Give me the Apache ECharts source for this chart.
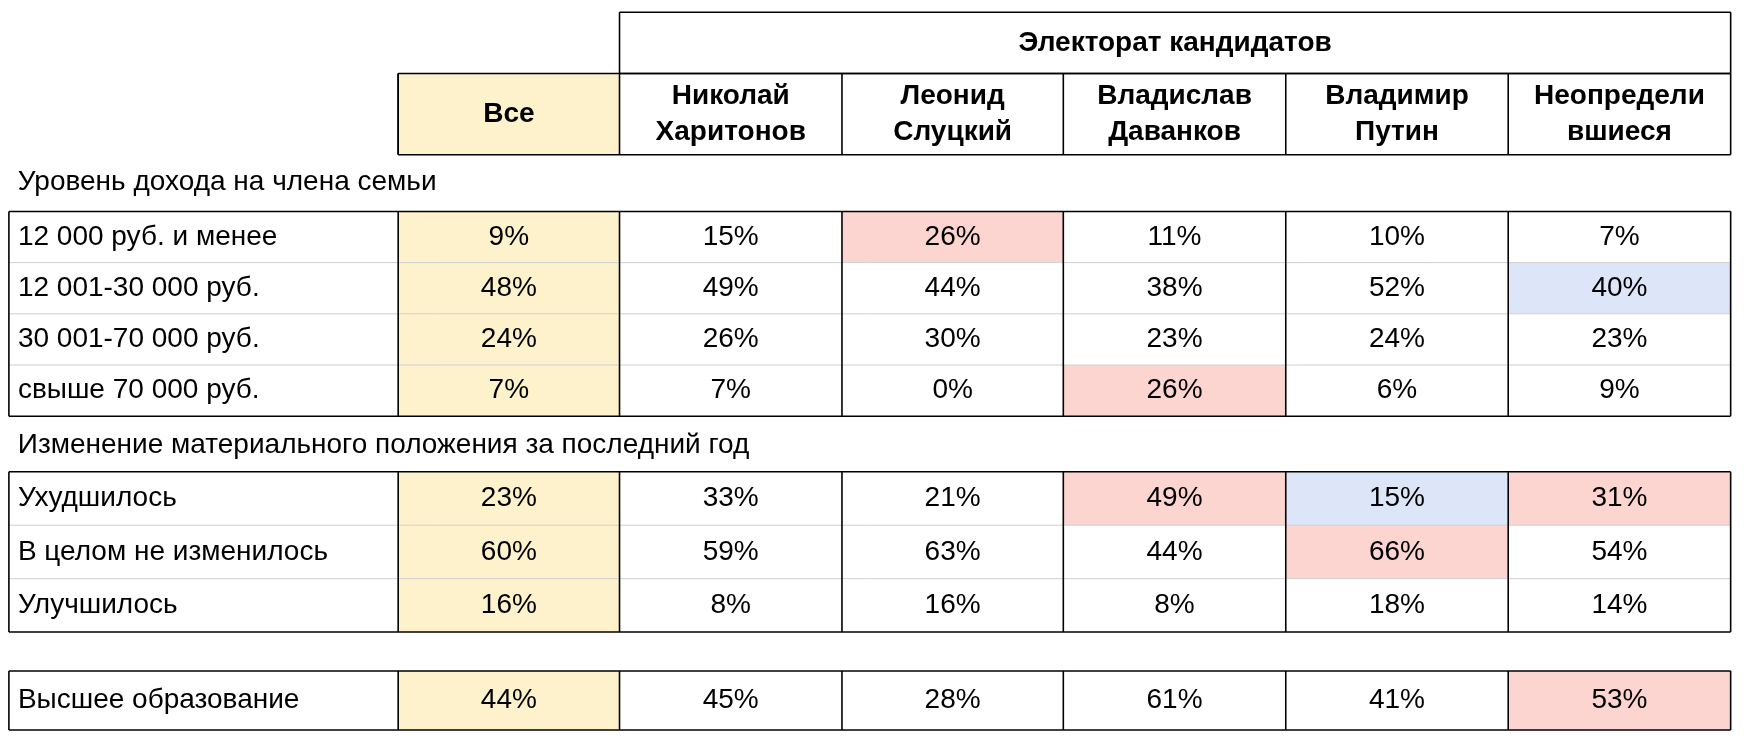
<!DOCTYPE html>
<html>
<head>
<meta charset="utf-8">
<script src="https://cdn.jsdelivr.net/npm/echarts@6/dist/echarts.min.js"></script>
<style>html,body{margin:0;padding:0;background:#fff}#chart{width:1744px;height:740px}</style>
</head>
<body>
<div id="chart"></div>
<script>
var groupTitle = 'Электорат кандидатов';
var columns = ['Все', 'Николай\nХаритонов', 'Леонид\nСлуцкий', 'Владислав\nДаванков', 'Владимир\nПутин', 'Неопредели\nвшиеся'];

var incomeTitle = 'Уровень дохода на члена семьи';
var incomeRows = ['12 000 руб. и менее', '12 001-30 000 руб.', '30 001-70 000 руб.', 'свыше 70 000 руб.'];
var incomeValues = [
    [9, 15, 26, 11, 10, 7],
    [48, 49, 44, 38, 52, 40],
    [24, 26, 30, 23, 24, 23],
    [7, 7, 0, 26, 6, 9]
];
var incomeMarks = [
    ['', '', 'r', '', '', ''],
    ['', '', '', '', '', 'b'],
    ['', '', '', '', '', ''],
    ['', '', '', 'r', '', '']
];

var changeTitle = 'Изменение материального положения за последний год';
var changeRows = ['Ухудшилось', 'В целом не изменилось', 'Улучшилось'];
var changeValues = [
    [23, 33, 21, 49, 15, 31],
    [60, 59, 63, 44, 66, 54],
    [16, 8, 16, 8, 18, 14]
];
var changeMarks = [
    ['', '', '', 'r', 'b', 'r'],
    ['', '', '', '', 'r', ''],
    ['', '', '', '', '', '']
];

var eduRows = ['Высшее образование'];
var eduValues = [[44, 45, 28, 61, 41, 53]];
var eduMarks = [['', '', '', '', '', 'r']];

// layout (units of a 1568x665 canvas, stretched to the page)
var colEdges = [8, 358, 557, 757, 956, 1156, 1356, 1556];
var markFill = { r: '#fcd5d0', b: '#dde6f8', '': '#ffffff' };
var allFill = '#fdf2cc';

var cells = [];   // [x0, y0, x1, y1, text, fill, align, bold]
var lines = [];   // [x0, y0, x1, y1, color, width]
var labels = [];  // [x, y, text]

function box(x0, y0, x1, y1) {
    lines.push([x0, y0, x1, y0, '#000', 1.6], [x0, y1, x1, y1, '#000', 1.6],
               [x0, y0, x0, y1, '#000', 1.6], [x1, y0, x1, y1, '#000', 1.6]);
}

// header
cells.push([557, 11, 1556, 66, groupTitle, '#fff', 'center', true]);
box(557, 11, 1556, 66);
columns.forEach(function (c, i) {
    cells.push([colEdges[i + 1], 66, colEdges[i + 2], 139, c, i === 0 ? allFill : '#fff', 'center', true]);
    lines.push([colEdges[i + 1], 66, colEdges[i + 1], 139, '#000', 1.6]);
});
box(358, 66, 1556, 139);

function block(rows, values, marks, top, rowH) {
    rows.forEach(function (name, r) {
        var y0 = top + r * rowH, y1 = y0 + rowH;
        cells.push([colEdges[0], y0, colEdges[1], y1, name, '#fff', 'left', false]);
        values[r].forEach(function (v, i) {
            cells.push([colEdges[i + 1], y0, colEdges[i + 2], y1, v + '%',
                i === 0 ? allFill : markFill[marks[r][i]], 'center', false]);
        });
        if (r > 0) lines.push([colEdges[0], y0, colEdges[7], y0, '#d0d0d0', 1]);
    });
    var bottom = top + rows.length * rowH;
    for (var i = 1; i < 7; i++) lines.push([colEdges[i], top, colEdges[i], bottom, '#000', 1.6]);
    box(colEdges[0], top, colEdges[7], bottom);
}

labels.push([16, 164, incomeTitle]);
block(incomeRows, incomeValues, incomeMarks, 190, 46);
labels.push([16, 400, changeTitle]);
block(changeRows, changeValues, changeMarks, 424, 48);
block(eduRows, eduValues, eduMarks, 603, 53);

var font = '"Liberation Sans", Arial, sans-serif';
var chart = echarts.init(document.getElementById('chart'));
chart.setOption({
    animation: false,
    grid: { left: 0, right: 0, top: 0, bottom: 0 },
    xAxis: { type: 'value', min: 0, max: 1568, show: false },
    yAxis: { type: 'value', min: 0, max: 665, inverse: true, show: false },
    series: [
        {
            type: 'custom',
            data: cells,
            renderItem: function (params, api) {
                var d = cells[params.dataIndex];
                var p0 = api.coord([d[0], d[1]]), p1 = api.coord([d[2], d[3]]);
                var left = d[6] === 'left';
                return {
                    type: 'group',
                    children: [
                        { type: 'rect', shape: { x: p0[0], y: p0[1], width: p1[0] - p0[0], height: p1[1] - p0[1] },
                          style: { fill: d[5] } },
                        { type: 'text', x: left ? p0[0] + 9 : (p0[0] + p1[0]) / 2, y: (p0[1] + p1[1]) / 2,
                          style: { text: d[4], fill: '#000', align: left ? 'left' : 'center', verticalAlign: 'middle',
                                   font: (d[7] ? 'bold ' : '') + '28px ' + font, lineHeight: 36 } }
                    ]
                };
            }
        },
        {
            type: 'custom',
            data: lines,
            renderItem: function (params, api) {
                var d = lines[params.dataIndex];
                var p0 = api.coord([d[0], d[1]]), p1 = api.coord([d[2], d[3]]);
                return { type: 'line', shape: { x1: p0[0], y1: p0[1], x2: p1[0], y2: p1[1] },
                         style: { stroke: d[4], lineWidth: d[5] } };
            }
        },
        {
            type: 'custom',
            data: labels,
            renderItem: function (params, api) {
                var d = labels[params.dataIndex];
                var p = api.coord([d[0], d[1]]);
                return { type: 'text', x: p[0], y: p[1],
                         style: { text: d[2], fill: '#000', verticalAlign: 'middle', font: '28px ' + font } };
            }
        }
    ]
});
</script>
</body>
</html>
